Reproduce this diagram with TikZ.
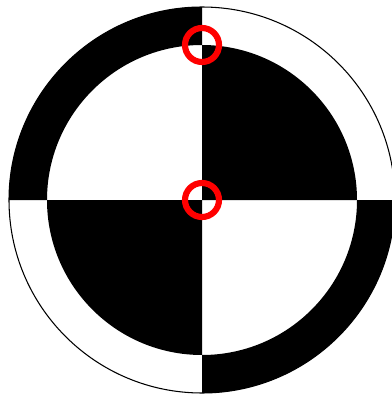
\documentclass[tikz,border=0pt]{standalone}
\usepackage{xcolor}
\usetikzlibrary{calc}
\definecolor{cmark}{HTML}{FF0000}

\begin{document}
\begin{tikzpicture}[
  x=0.01cm, y=0.01cm,
  quad/.style={fill=black},
  rim/.style={draw=black, line width=0.3pt},
  target/.style={circle, draw=cmark, line width=1.75pt, minimum size=0.34cm, inner sep=0pt},
]
\useasboundingbox (-202,-194) rectangle (190,200);
% ---------- outer ring ----------
\coordinate (c) at (0,0);
\draw[rim] (c) circle[radius=193];
\fill[quad] (0,193) arc[start angle=90, end angle=180, radius=193]
  -- (-155,0) arc[start angle=180, end angle=90, radius=155] -- cycle;
\fill[quad] (0,-193) arc[start angle=270, end angle=360, radius=193]
  -- (155,0) arc[start angle=0, end angle=-90, radius=155] -- cycle;

% ---------- inner disc ----------
\fill[quad] (c) -- (155,0) arc[start angle=0, end angle=90, radius=155] -- cycle;
\fill[quad] (c) -- (-155,0) arc[start angle=180, end angle=270, radius=155] -- cycle;

% ---------- red markers ----------
\node[target] (ctop) at (0,155) {};
\node[target] (cmid) at (c) {};
\end{tikzpicture}
\end{document}
